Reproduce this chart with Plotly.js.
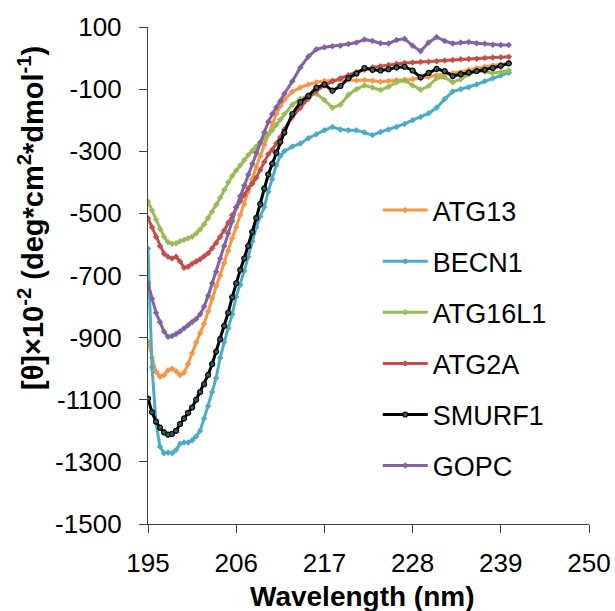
<!DOCTYPE html>
<html>
<head>
<meta charset="utf-8">
<script src="https://cdn.plot.ly/plotly-3.0.1.min.js"></script>
<style>html,body{margin:0;padding:0;background:#fff;}#chart{width:615px;height:611px;}</style>
</head>
<body>
<div id="chart"></div>
<script>
const wavelength = [195,195.5,196,196.5,197,197.5,198,198.5,199,199.5,200,200.5,201,201.5,202,202.5,203,203.5,204,204.5,205,205.5,206,206.5,207,207.5,208,208.5,209,209.5,210,210.5,211,211.5,212,213,214,215,216,217,218,219,220,221,222,223,224,225,226,227,228,229,230,231,232,233,234,235,236,237,238,239,240];

const ATG13 = [-913,-965,-1010,-1026,-1020,-1005,-1000,-1008,-1020,-1012,-985,-950,-915,-885,-855,-815,-775,-735,-700,-660,-620,-580,-545,-505,-470,-430,-390,-350,-315,-280,-245,-210,-180,-155,-135,-108,-95,-85,-78,-74,-72,-70,-70,-72,-71,-73,-76,-74,-71,-70,-68,-65,-60,-55,-52,-50,-45,-38,-32,-28,-24,-20,-17];

const BECN1 = [-613,-995,-1175,-1251,-1272,-1270,-1272,-1262,-1242,-1238,-1238,-1230,-1218,-1200,-1160,-1120,-1075,-1030,-965,-915,-870,-825,-768,-730,-685,-640,-590,-545,-510,-480,-430,-390,-345,-315,-300,-285,-275,-258,-245,-232,-222,-230,-232,-232,-240,-248,-238,-230,-222,-212,-200,-190,-178,-160,-132,-108,-100,-94,-85,-75,-65,-56,-47];

const ATG16L1 = [-462,-490,-520,-550,-575,-592,-598,-596,-590,-585,-580,-575,-565,-552,-535,-515,-495,-472,-450,-425,-400,-380,-362,-345,-328,-312,-298,-285,-272,-260,-245,-232,-215,-198,-180,-150,-132,-120,-115,-135,-160,-150,-118,-100,-88,-95,-103,-92,-78,-72,-88,-102,-90,-65,-62,-78,-68,-52,-42,-44,-48,-45,-40];

const ATG2A = [-516,-545,-575,-605,-630,-640,-645,-640,-655,-675,-672,-662,-655,-648,-638,-628,-612,-595,-575,-555,-530,-505,-480,-460,-440,-420,-405,-385,-360,-335,-310,-295,-275,-255,-230,-190,-160,-130,-105,-88,-75,-65,-55,-45,-38,-30,-26,-22,-18,-16,-14,-13,-12,-10,-8,-6,-4,-3,-2,0,2,3,4];

const SMURF1 = [-1096,-1140,-1170,-1190,-1205,-1212,-1210,-1200,-1178,-1160,-1142,-1125,-1100,-1075,-1050,-1020,-985,-945,-905,-862,-820,-770,-725,-682,-645,-605,-560,-515,-470,-420,-375,-340,-305,-270,-240,-180,-142,-122,-95,-85,-105,-90,-65,-50,-32,-38,-40,-36,-30,-28,-40,-62,-48,-35,-42,-58,-52,-47,-42,-38,-32,-25,-17];

const GOPC = [-725,-775,-820,-850,-880,-897,-895,-888,-880,-870,-860,-850,-840,-825,-800,-765,-725,-688,-645,-605,-565,-525,-480,-445,-410,-375,-340,-305,-272,-240,-205,-180,-158,-138,-115,-75,-30,5,28,35,38,40,45,50,60,55,48,47,58,62,40,22,50,68,55,47,50,52,48,46,43,42,42];

const seriesNames = ["ATG13","BECN1","ATG16L1","ATG2A","SMURF1","GOPC"];
const seriesValues = [ATG13, BECN1, ATG16L1, ATG2A, SMURF1, GOPC];
const seriesColors = ["#F79646","#4BACC6","#9BBB59","#C0504D","#000000","#8064A2"];
const markerColors = ["#F79646","#4BACC6","#9BBB59","#C0504D","#2F5F66","#8064A2"];

const xTicks = [195,206,217,228,239,250];
const yTicks = [100,-100,-300,-500,-700,-900,-1100,-1300,-1500];

const xTitle = "<b>Wavelength (nm)</b>";
const yTitle = "<b>[θ]×10<sup>-2</sup> (deg*cm<sup>2</sup>*dmol<sup>-1</sup>)</b>";

const FONT = "Liberation Sans, Arial, sans-serif";

const traces = seriesNames.map((name, i) => ({
  type: "scatter",
  mode: "lines+markers",
  name: name,
  legendgroup: name,
  x: wavelength,
  y: seriesValues[i],
  line: {color: seriesColors[i], width: 3},
  marker: {
    symbol: i === 4 ? "circle" : "diamond",
    size: 5,
    color: markerColors[i],
    line: {color: seriesColors[i], width: i === 4 ? 1.2 : 0}
  }
}));

const layout = {
  width: 615,
  height: 611,
  margin: {l: 148, r: 26, t: 27, b: 87},
  paper_bgcolor: "#ffffff",
  plot_bgcolor: "#ffffff",
  font: {family: FONT, size: 26, color: "#000000"},
  showlegend: true,
  legend: {
    x: 0.521, xanchor: "left",
    y: 0.68, yanchor: "top",
    font: {family: FONT, size: 27, color: "#000000"},
    tracegroupgap: 13,
    traceorder: "grouped",
    itemwidth: 45,
    bgcolor: "rgba(0,0,0,0)"
  },
  xaxis: {
    range: [195, 250],
    tickmode: "array",
    tickvals: xTicks,
    ticktext: xTicks.map(String),
    ticks: "outside",
    ticklen: 8,
    tickcolor: "#404040",
    ticklabelstandoff: 8,
    showline: true,
    linecolor: "#404040",
    linewidth: 1.2,
    showgrid: false,
    zeroline: false,
    tickfont: {family: FONT, size: 26, color: "#000000"}
  },
  yaxis: {
    range: [-1500, 100],
    tickmode: "array",
    tickvals: yTicks,
    ticktext: yTicks.map(String),
    ticks: "outside",
    ticklen: 8,
    tickcolor: "#404040",
    ticklabelstandoff: 12,
    showline: true,
    linecolor: "#404040",
    linewidth: 1.2,
    showgrid: false,
    zeroline: false,
    tickfont: {family: FONT, size: 26, color: "#000000"}
  },
  annotations: [
    {
      text: xTitle, xref: "paper", yref: "paper",
      x: (362 - 148) / 441, y: -(596 - 524) / 497,
      xanchor: "center", yanchor: "middle", showarrow: false,
      font: {family: FONT, size: 28, color: "#000000"}
    },
    {
      text: yTitle, xref: "paper", yref: "paper", textangle: -90,
      x: (31 - 148) / 441, y: (524 - 218) / 497,
      xanchor: "center", yanchor: "middle", showarrow: false,
      font: {family: FONT, size: 29, color: "#000000"}
    }
  ]
};

Plotly.newPlot("chart", traces, layout, {displayModeBar: false, staticPlot: true});
</script>
</body>
</html>
